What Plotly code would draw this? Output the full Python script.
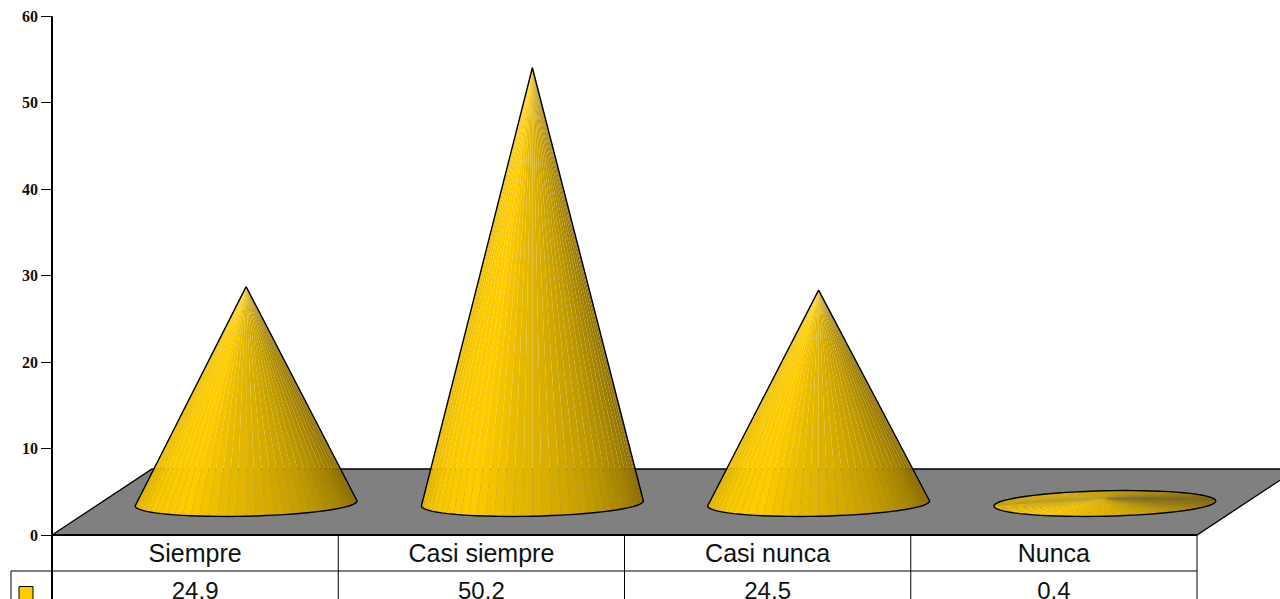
import numpy as np
import plotly.graph_objects as go

categorias = ["Siempre", "Casi siempre", "Casi nunca", "Nunca"]
valores = [24.9, 50.2, 24.5, 0.4]
ticks_y = [0, 10, 20, 30, 40, 50, 60]

# escala de pixeles a unidades del eje
px_x = 1 / 286.25
px_y = 60 / 519
prof_x = 50 * px_x   # media profundidad del piso
prof_y = 33 * px_y
radio_x = 111 * px_x
radio_y = 12.7 * px_y
inclina = 2.5 * px_y
base_y = prof_y - 1.5 * px_y
rango_x = [-52 * px_x, (1280 - 52) * px_x]
rango_y = [-64 * px_y, 60]
fila = 36 * px_y
n_caras = 36

rampa_u = [-1.0, -0.85, -0.55, -0.2, 0.2, 0.6, 0.85, 1.0]
rampa_r = [232, 248, 255, 232, 214, 190, 165, 140]
rampa_g = [186, 200, 204, 186, 172, 152, 131, 110]


def color_cara(u, atras=False):
    r = np.interp(u, rampa_u, rampa_r)
    g = np.interp(u, rampa_u, rampa_g)
    if atras:
        r, g = r * 0.9, g * 0.9
    return f"rgb({r:.0f},{g:.0f},0)"


fig = go.Figure()

# piso gris
fig.add_trace(go.Scatter(
    x=[0, 4, 4 + 2 * prof_x, 2 * prof_x, 0],
    y=[0, 0, 2 * prof_y, 2 * prof_y, 0],
    mode="lines", fill="toself", fillcolor="#808080",
    line=dict(color="black", width=1.3), hoverinfo="skip", showlegend=False,
))


def borde(cx, t):
    return cx + radio_x * np.cos(t), base_y + radio_y * np.sin(t) + inclina * np.cos(t)


for i, v in enumerate(valores):
    cx = i + 0.5 + prof_x + 1 * px_x
    cima = prof_y + v
    plano = v < 2
    # el cono plano se ve completo, los altos solo por delante
    if plano:
        angulos = np.linspace(0, 2 * np.pi, 2 * n_caras + 1)
    else:
        angulos = np.linspace(np.pi, 2 * np.pi, n_caras + 1)
    for a0, a1 in zip(angulos[:-1], angulos[1:]):
        x0, y0 = borde(cx, a0)
        x1, y1 = borde(cx, a1)
        am = (a0 + a1) / 2
        fig.add_trace(go.Scatter(
            x=[cx, x0, x1, cx], y=[cima, y0, y1, cima],
            mode="lines", fill="toself", fillcolor=color_cara(np.cos(am), np.sin(am) > 0),
            line=dict(width=0, simplify=False), hoverinfo="skip", showlegend=False,
        ))
    # contorno
    if plano:
        ang = np.linspace(0, 2 * np.pi, 73)
        xs, ys = borde(cx, ang)
    else:
        ang = np.linspace(np.pi, 2 * np.pi, 37)
        xs, ys = borde(cx, ang)
        xs = np.concatenate([[cx], xs, [cx]])
        ys = np.concatenate([[cima], ys, [cima]])
    fig.add_trace(go.Scatter(
        x=xs, y=ys, mode="lines", line=dict(color="black", width=1.4, simplify=False),
        hoverinfo="skip", showlegend=False,
    ))

# tabla de datos
izq = -41 * px_x
fondo = rango_y[0]
lin_x = [0, 4, None, izq, 4, None, izq, izq, None]
lin_y = [0, 0, None, -fila, -fila, None, -fila, fondo, None]
for k in range(1, 5):
    lin_x += [k, k, None]
    lin_y += [0, fondo, None]
fig.add_trace(go.Scatter(
    x=lin_x, y=lin_y, mode="lines", line=dict(color="black", width=1),
    hoverinfo="skip", showlegend=False,
))
fig.add_trace(go.Scatter(
    x=[0, 4], y=[0, 0], mode="lines", line=dict(color="black", width=2),
    hoverinfo="skip", showlegend=False,
))
centros = [k + 0.5 for k in range(4)]
fig.add_trace(go.Scatter(
    x=centros, y=[-fila / 2 - 3 * px_y] * 4, text=categorias, mode="text",
    textposition="middle center",
    textfont=dict(family="Liberation Sans", size=25, color="#111111"),
    hoverinfo="skip", showlegend=False,
))
fig.add_trace(go.Scatter(
    x=centros, y=[-fila - 22 * px_y] * 4, text=[str(v) for v in valores], mode="text",
    textposition="middle center",
    textfont=dict(family="Liberation Sans", size=24, color="#111111"),
    hoverinfo="skip", showlegend=False,
))
# clave de la leyenda
fig.add_trace(go.Scatter(
    x=[-26 * px_x], y=[-58.5 * px_y], mode="markers",
    marker=dict(symbol="square", size=14, color="#FFCC00", line=dict(color="black", width=1)),
    hoverinfo="skip", showlegend=False,
))

fig.update_layout(
    width=1280, height=599,
    margin=dict(l=0, r=0, t=16, b=0),
    paper_bgcolor="white", plot_bgcolor="white",
    showlegend=False,
    xaxis=dict(range=rango_x, visible=False, domain=[0, 1]),
    yaxis=dict(
        range=rango_y,
        anchor="free", position=52 / 1280,
        tickmode="array", tickvals=ticks_y, ticktext=[str(t) for t in ticks_y],
        ticks="outside", ticklen=10, tickwidth=1, tickcolor="black",
        showline=True, linecolor="black", linewidth=1.5,
        showgrid=False, zeroline=False,
        tickfont=dict(family="Liberation Serif", size=16, color="#111111", weight="bold"),
    ),
)

fig.write_html("out.html", config={"displayModeBar": False},
               post_script="document.body.style.margin='0';")
